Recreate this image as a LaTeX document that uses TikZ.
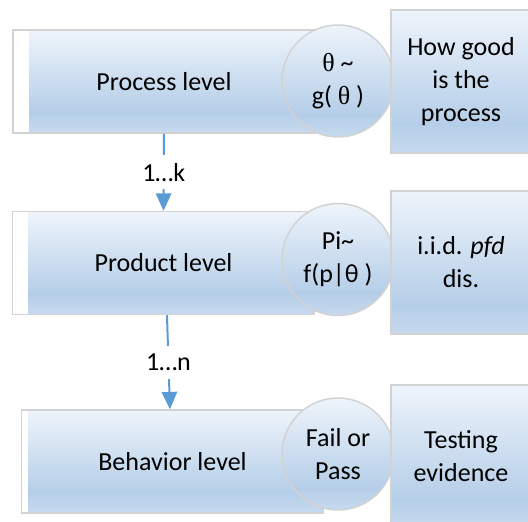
\documentclass[tikz,border=0pt]{standalone}
\usepackage{fontspec}
\setmainfont{Carlito}
\newfontfamily\thetafont{Liberation Serif}
\usetikzlibrary{arrows.meta}

\definecolor{lvltop}{HTML}{EEF4FB}
\definecolor{lvlmid}{HTML}{B5CEE8}
\definecolor{lvlbot}{HTML}{C7DAEF}
\definecolor{edge}{HTML}{D2D2D2}
\definecolor{flowblue}{HTML}{5B9BD5}
% light at the top, darkest a little above the bottom
\pgfdeclareverticalshading{levelfill}{100bp}{color(0bp)=(lvlbot); color(25bp)=(lvlbot);
  color(35bp)=(lvlmid); color(75bp)=(lvltop); color(100bp)=(lvltop)}

\begin{document}
\begin{tikzpicture}[x=0.75pt,y=-0.75pt,
  font=\fontsize{19.5}{24.75}\selectfont,
  level/.style={draw=edge, line width=1.1pt, fill=white,
    minimum width=226.5pt, minimum height=77.25pt,
    path picture={\shade[shading=levelfill]
      ([xshift=#1]path picture bounding box.south west) rectangle
      (path picture bounding box.north east);}},
  dist/.style={circle, draw=edge, line width=1.1pt, shading=levelfill,
    minimum size=84pt, inner sep=0pt, align=center},
  note/.style={draw=edge, line width=1.1pt, shading=levelfill,
    minimum width=105pt, minimum height=107.25pt, align=center},
  flow/.style={draw=flowblue, line width=1.5pt,
    -{Triangle[width=11.5pt,length=13pt]}},
  count/.style={fill=white, inner xsep=1pt, inner ysep=6pt}]
\useasboundingbox (0,0) rectangle (528,521);
\clip (0,0) rectangle (528,521);

% process level
\node[level=12pt] (proc) at (164,81.5) {Process level};
\node[dist] (procdist) at (338,81) {{\thetafont θ} \char`~\\g( {\thetafont θ} )};
\node[note] (procnote) at (461,81.5) {How good\\is the\\process};

% product level
\node[level=12pt] (prod) at (163.5,263) {Product level};
\node[dist] (proddist) at (338,259.5) {Pi\char`~\\f(p|θ )};
\node[note] (prodnote) at (461,262.5) {i.i.d. \textit{pfd}\\dis.};

% behavior level
\node[level=5.25pt] (beh) at (172.5,461.5) {Behavior level};
\node[dist] (behdist) at (338,454) {Fail or\\Pass};
\node[note] (behnote) at (461,456.5) {Testing\\evidence};

% multiplicities
\draw[flow] (proc.south) -- node[count] {1…k} (prod.north);
\draw[flow] ([xshift=2.6pt]prod.south) -- node[count] {1…n} ([xshift=-1.9pt]beh.north);
\end{tikzpicture}
\end{document}
